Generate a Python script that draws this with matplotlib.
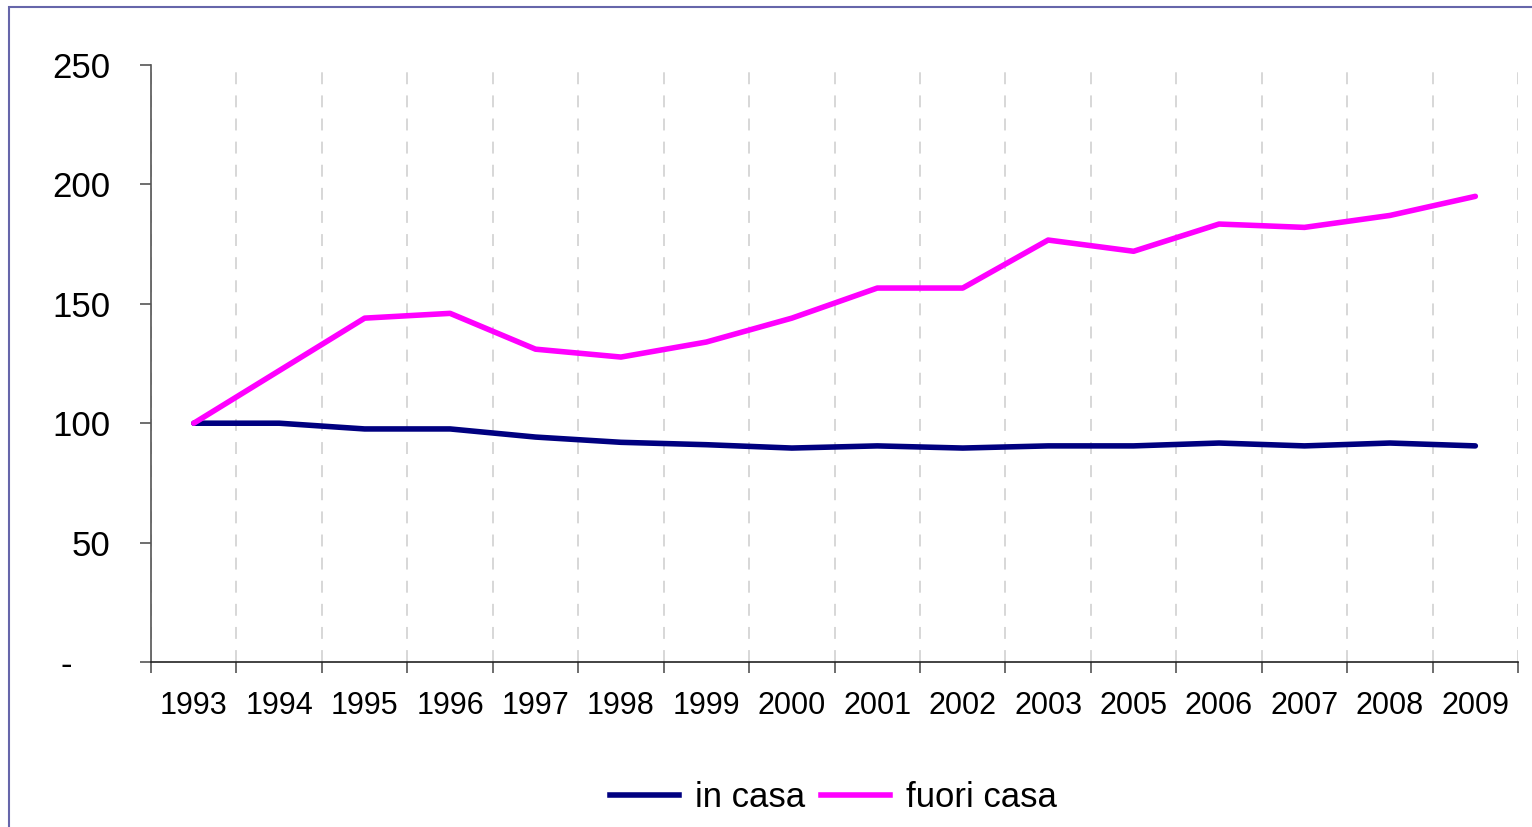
import matplotlib.pyplot as plt
from matplotlib.patches import Rectangle
from matplotlib.lines import Line2D

# dati
anni = ['1993', '1994', '1995', '1996', '1997', '1998', '1999', '2000',
        '2001', '2002', '2003', '2005', '2006', '2007', '2008', '2009']
in_casa = [100, 100, 97.6, 97.6, 94.2, 92, 91, 89.6,
           90.5, 89.6, 90.5, 90.5, 91.7, 90.5, 91.7, 90.5]
fuori_casa = [100, 122, 144, 146, 131, 127.7, 134, 144,
              156.6, 156.6, 176.7, 172, 183.4, 182, 187, 195]
y_ticks = [0, 50, 100, 150, 200, 250]

plt.rcParams['font.family'] = ['Liberation Sans', 'DejaVu Sans']

fig = plt.figure(figsize=(15.32, 8.27), dpi=100)
ax = fig.add_axes([0.0986, 0.1995, 0.8923, 0.7219])

x = list(range(len(anni)))
ax.plot(x, in_casa, color='#000080', linewidth=4, solid_capstyle='round',
        solid_joinstyle='round', label='in casa')
ax.plot(x, fuori_casa, color='#FF00FF', linewidth=4, solid_capstyle='round',
        solid_joinstyle='round', label='fuori casa')

ax.set_xlim(-0.5, len(anni) - 0.5)
ax.set_ylim(0, 250)

# tacche ai confini delle categorie, etichette al centro
ax.set_xticks([i - 0.5 for i in range(len(anni) + 1)])
ax.set_xticklabels([])
ax.set_xticks(x, minor=True)
ax.set_xticklabels(anni, minor=True, fontsize=22)
ax.tick_params(axis='x', which='major', length=8, width=1.2, color='#555555')
ax.tick_params(axis='x', which='minor', length=0, pad=21)

ax.set_yticks(y_ticks)
ax.set_yticklabels(['-    ' if v == 0 else str(v) for v in y_ticks], fontsize=25)
ax.tick_params(axis='y', length=8, width=1.2, color='#555555', pad=21)

ax.grid(axis='x', which='major', linestyle=(0, (6.6, 6.2)), color='#d4d4d4', linewidth=1.3)

for s in ['top', 'right']:
    ax.spines[s].set_visible(False)
ax.spines['left'].set_color('#555555')
ax.spines['left'].set_linewidth(1.2)
ax.spines['bottom'].set_color('#222222')
ax.spines['bottom'].set_linewidth(1.2)

handles = [Line2D([], [], color='#000080', linewidth=4),
           Line2D([], [], color='#FF00FF', linewidth=4)]
fig.legend(handles, ['in casa', 'fuori casa'], loc='center', bbox_to_anchor=(0.544, 0.036),
           ncol=2, frameon=False, fontsize=25, handlelength=2.0, handletextpad=0.46,
           columnspacing=0.46)

# cornice
fig.patches.append(Rectangle((9 / 1532, -0.01), 1.0, 1 - 7 / 827 + 0.01,
                             transform=fig.transFigure, fill=False,
                             edgecolor='#6666aa', linewidth=1.5))

fig.savefig('out.png', dpi=100)
